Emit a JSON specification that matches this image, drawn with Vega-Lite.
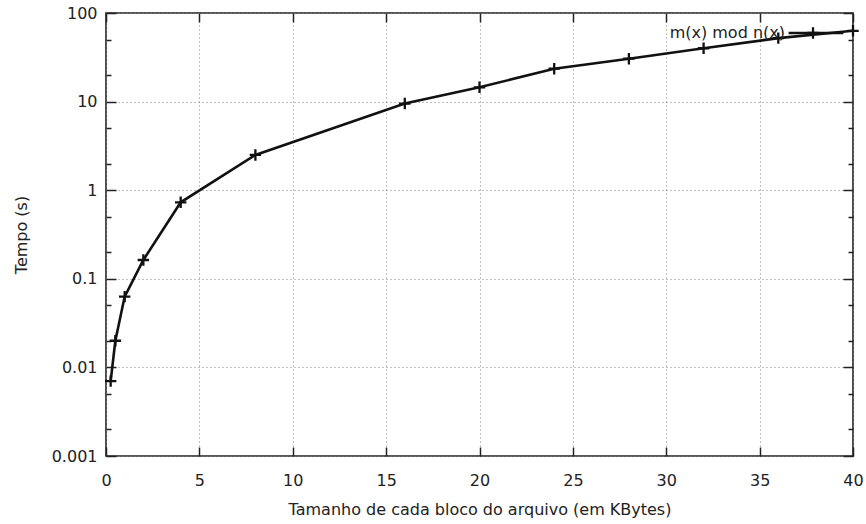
{
  "$schema": "https://vega.github.io/schema/vega-lite/v6.json",
  "width": 747,
  "height": 443,
  "autosize": "none",
  "padding": {"left": 106, "top": 13, "right": 13, "bottom": 68},
  "background": "white",
  "config": {
    "view": {"stroke": "#222", "strokeWidth": 1.6},
    "font": "DejaVu Sans",
    "axis": {
      "labelFont": "DejaVu Sans",
      "labelFontSize": 16,
      "labelColor": "#222",
      "titleFont": "DejaVu Sans",
      "titleFontSize": 16,
      "titleFontWeight": "normal",
      "titleColor": "#222",
      "domain": false,
      "tickColor": "#222",
      "tickWidth": 1.5,
      "gridColor": "#808080",
      "gridDash": [1, 3],
      "gridWidth": 1
    }
  },
  "data": {
    "values": [
      {"x": 0.25, "t": 0.007, "serie": "m(x) mod n(x)"},
      {"x": 0.5, "t": 0.02, "serie": "m(x) mod n(x)"},
      {"x": 1, "t": 0.063, "serie": "m(x) mod n(x)"},
      {"x": 2, "t": 0.163, "serie": "m(x) mod n(x)"},
      {"x": 4, "t": 0.73, "serie": "m(x) mod n(x)"},
      {"x": 8, "t": 2.5, "serie": "m(x) mod n(x)"},
      {"x": 16, "t": 9.5, "serie": "m(x) mod n(x)"},
      {"x": 20, "t": 14.5, "serie": "m(x) mod n(x)"},
      {"x": 24, "t": 23.5, "serie": "m(x) mod n(x)"},
      {"x": 28, "t": 30.5, "serie": "m(x) mod n(x)"},
      {"x": 32, "t": 40, "serie": "m(x) mod n(x)"},
      {"x": 36, "t": 52, "serie": "m(x) mod n(x)"},
      {"x": 40, "t": 63, "serie": "m(x) mod n(x)"}
    ]
  },
  "layer": [
    {
      "mark": {"type": "line", "strokeWidth": 2.6, "clip": true},
      "encoding": {
        "x": {
          "field": "x", "type": "quantitative",
          "scale": {"domain": [0, 40], "nice": false, "zero": false},
          "axis": {
            "orient": "bottom",
            "values": [0, 5, 10, 15, 20, 25, 30, 35, 40],
            "offset": -9,
            "tickSize": 9,
            "labelPadding": 16,
            "grid": true,
            "labelFlush": false,
            "title": "Tamanho de cada bloco do arquivo (em KBytes)",
            "titlePadding": 13
          }
        },
        "y": {
          "field": "t", "type": "quantitative",
          "scale": {"type": "log", "domain": [0.001, 100], "nice": false},
          "axis": {
            "orient": "left",
            "values": [0.001, 0.01, 0.1, 1, 10, 100],
            "format": "~g",
            "labelOverlap": false,
            "labelFlush": false,
            "offset": -10,
            "tickSize": 10,
            "grid": true,
            "labelPadding": 9,
            "title": "Tempo (s)",
            "titlePadding": 22
          }
        },
        "color": {
          "field": "serie", "type": "nominal",
          "scale": {"range": ["#111"]},
          "legend": {
            "title": null,
            "orient": "none",
            "legendX": 681,
            "legendY": -9,
            "padding": 0,
            "symbolType": "stroke",
            "symbolSize": 3000,
            "symbolStrokeWidth": 2.6,
            "labelAlign": "right",
            "labelOffset": -60,
            "labelFont": "DejaVu Sans",
            "labelFontSize": 16,
            "labelColor": "#222"
          }
        }
      }
    },
    {
      "mark": {"type": "point", "filled": false, "size": 130, "strokeWidth": 2.3, "color": "#111", "opacity": 1},
      "encoding": {
        "x": {
          "field": "x", "type": "quantitative",
          "scale": {"domain": [0, 40], "nice": false, "zero": false},
          "axis": {
            "orient": "top",
            "values": [0, 5, 10, 15, 20, 25, 30, 35, 40],
            "offset": -9,
            "tickSize": 9,
            "labels": false,
            "grid": false,
            "title": null
          }
        },
        "y": {
          "field": "t", "type": "quantitative",
          "scale": {"type": "log", "domain": [0.001, 100], "nice": false},
          "axis": {
            "orient": "right",
            "values": [0.001, 0.01, 0.1, 1, 10, 100],
            "offset": -10,
            "tickSize": 10,
            "labels": false,
            "grid": false,
            "title": null
          }
        },
        "shape": {
          "field": "serie", "type": "nominal",
          "scale": {"range": ["M-1,0L1,0M0,-1L0,1"]},
          "legend": {
            "title": null,
            "orient": "none",
            "legendX": 700,
            "legendY": 13,
            "padding": 0,
            "symbolSize": 130,
            "symbolStrokeWidth": 2.3,
            "symbolStrokeColor": "#111",
            "symbolFillColor": "transparent",
            "labelOpacity": 0,
            "labelFontSize": 1
          }
        }
      }
    },
    {
      "mark": {"type": "point", "opacity": 0},
      "encoding": {
        "x": {"field": "x", "type": "quantitative", "scale": {"domain": [0, 40], "nice": false, "zero": false}, "axis": null},
        "y": {
          "field": "t", "type": "quantitative",
          "scale": {"type": "log", "domain": [0.001, 100], "nice": false},
          "axis": {
            "orient": "left",
            "values": [0.002, 0.005, 0.02, 0.05, 0.2, 0.5, 2, 5, 20, 50],
            "offset": -5,
            "tickSize": 5,
            "labels": false,
            "grid": false,
            "title": null
          }
        }
      }
    },
    {
      "mark": {"type": "point", "opacity": 0},
      "encoding": {
        "x": {"field": "x", "type": "quantitative", "scale": {"domain": [0, 40], "nice": false, "zero": false}, "axis": null},
        "y": {
          "field": "t", "type": "quantitative",
          "scale": {"type": "log", "domain": [0.001, 100], "nice": false},
          "axis": {
            "orient": "right",
            "values": [0.002, 0.005, 0.02, 0.05, 0.2, 0.5, 2, 5, 20, 50],
            "offset": -5,
            "tickSize": 5,
            "labels": false,
            "grid": false,
            "title": null
          }
        }
      }
    }
  ],
  "resolve": {"axis": {"x": "independent", "y": "independent"}}
}
